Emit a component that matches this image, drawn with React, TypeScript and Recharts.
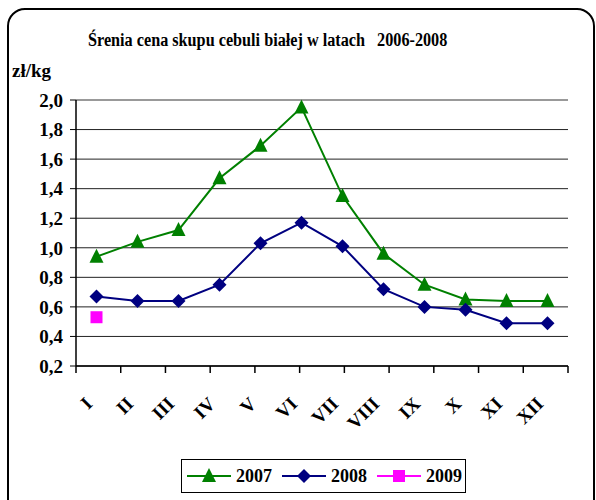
import { LineChart, Line, CartesianGrid, XAxis, YAxis, ReferenceLine } from 'recharts';

const months = ["I", "II", "III", "IV", "V", "VI", "VII", "VIII", "IX", "X", "XI", "XII"]
const prices2007 = [0.94, 1.04, 1.12, 1.47, 1.69, 1.95, 1.35, 0.96, 0.75, 0.65, 0.64, 0.64]
const prices2008 = [0.67, 0.64, 0.64, 0.75, 1.03, 1.17, 1.01, 0.72, 0.60, 0.58, 0.49, 0.49]
const prices2009: (number | null)[] = [0.53, null, null, null, null, null, null, null, null, null, null, null]
const yTicks = [0.2, 0.4, 0.6, 0.8, 1.0, 1.2, 1.4, 1.6, 1.8, 2.0]
const edgeTicks = [0, 1, 2, 3, 4, 5, 6, 7, 8, 9, 10, 11, 12]

const data = months.map((m, i) => ({
  month: m,
  y2007: prices2007[i],
  y2008: prices2008[i],
  y2009: prices2009[i],
}))

const font = '"Liberation Serif", Tinos, "Times New Roman", "DejaVu Serif", serif'

const Triangle = (props: any) => {
  const { cx, cy } = props
  if (cx == null || cy == null) return null
  return <polygon points={`${cx},${cy - 8} ${cx + 7},${cy + 6} ${cx - 7},${cy + 6}`} fill="#008000" />
}

const Diamond = (props: any) => {
  const { cx, cy } = props
  if (cx == null || cy == null) return null
  return <polygon points={`${cx},${cy - 7} ${cx + 7},${cy} ${cx},${cy + 7} ${cx - 7},${cy}`} fill="#000080" />
}

const Square = (props: any) => {
  const { cx, cy } = props
  if (cx == null || cy == null) return null
  return <rect x={cx - 6} y={cy - 6} width={12} height={12} fill="#ff00ff" />
}

const MonthTick = (props: any) => {
  const { x, y, payload } = props
  const ax = x - 3
  const ay = y + 38
  return (
    <text x={ax} y={ay} transform={`rotate(-45 ${ax} ${ay})`} textAnchor="end"
      fontFamily={font} fontWeight="bold" fontSize={19} fill="#000">
      {payload.value}
    </text>
  )
}

const EmptyTick = () => <g />

const LegendItem = ({ color, label, marker }: { color: string, label: string, marker: string }) => (
  <div style={{ display: "flex", alignItems: "center", marginRight: 10 }}>
    <svg width={44} height={20}>
      <line x1={0} y1={10} x2={44} y2={10} stroke={color} strokeWidth={2} />
      {marker === "tri" && <polygon points="22,2 29,16 15,16" fill={color} />}
      {marker === "dia" && <polygon points="22,3 29,10 22,17 15,10" fill={color} />}
      {marker === "sq" && <rect x={16} y={4} width={12} height={12} fill={color} />}
    </svg>
    <span style={{ marginLeft: 5 }}>{label}</span>
  </div>
)

const App = () => {
  return (
    <div style={{ position: "fixed", left: 0, top: 0, width: 596, height: 500, overflow: "hidden", background: "#fff", fontFamily: font }}>
      <div style={{
        position: "absolute", left: 7, top: 8, width: 584, height: 520,
        border: "2px solid #000", borderRadius: 18,
      }} />
      <div style={{
        position: "absolute", left: 88, top: 30, whiteSpace: "pre",
        fontWeight: "bold", fontSize: 18, transform: "scaleX(0.9)", transformOrigin: "left",
      }}>
        {"Śrenia cena skupu cebuli białej w latach   2006-2008"}
      </div>
      <div style={{ position: "absolute", left: 12, top: 60, fontWeight: "bold", fontSize: 19 }}>
        zł/kg
      </div>

      <div style={{ position: "absolute", left: 0, top: 0 }}>
        <LineChart width={596} height={500} data={data} margin={{ top: 100, right: 28, bottom: 53, left: 0 }}>
          <CartesianGrid xAxisId="b" vertical={false} stroke="#222" strokeWidth={1} />
          <XAxis xAxisId="b" dataKey="month" scale="band" height={80} tickLine={false} tickSize={0} tickMargin={0}
            axisLine={false} tick={<MonthTick />} interval={0} />
          <XAxis xAxisId="a" type="number" domain={[0, 12]} ticks={edgeTicks} allowDataOverflow
            height={1} axisLine={{ stroke: "#000", strokeWidth: 1.5 }} tickLine={{ stroke: "#000", strokeWidth: 1.5 }}
            tickSize={7} tick={<EmptyTick />} interval={0} />
          <YAxis width={76} domain={[0.2, 2.0]} ticks={yTicks} interval={0}
            tickFormatter={(v: number) => v.toFixed(1).replace(".", ",")}
            tick={{ fill: "#000", fontFamily: font, fontWeight: "bold", fontSize: 19 }}
            tickLine={{ stroke: "#000" }} tickSize={6} tickMargin={7}
            axisLine={{ stroke: "#000", strokeWidth: 1.5 }} />
          <YAxis yAxisId="right" orientation="right" width={0} domain={[0.2, 2.0]} tick={false}
            tickLine={false} axisLine={{ stroke: "#888", strokeWidth: 2 }} />
          <ReferenceLine y={2.0} xAxisId="b" stroke="#999" strokeWidth={2} />
          <Line xAxisId="b" dataKey="y2007" stroke="#008000" strokeWidth={2} dot={<Triangle />}
            activeDot={false} isAnimationActive={false} />
          <Line xAxisId="b" dataKey="y2008" stroke="#000080" strokeWidth={2} dot={<Diamond />}
            activeDot={false} isAnimationActive={false} />
          <Line xAxisId="b" dataKey="y2009" stroke="#ff00ff" strokeWidth={2} dot={<Square />}
            activeDot={false} isAnimationActive={false} />
        </LineChart>
      </div>

      <div style={{
        position: "absolute", left: 181, top: 459, width: 285, height: 34,
        border: "1px solid #000", display: "flex", alignItems: "center", paddingLeft: 5,
        boxSizing: "border-box", fontWeight: "bold", fontSize: 18,
      }}>
        <LegendItem color="#008000" label="2007" marker="tri" />
        <LegendItem color="#000080" label="2008" marker="dia" />
        <LegendItem color="#ff00ff" label="2009" marker="sq" />
      </div>
    </div>
  )
}

export default App
